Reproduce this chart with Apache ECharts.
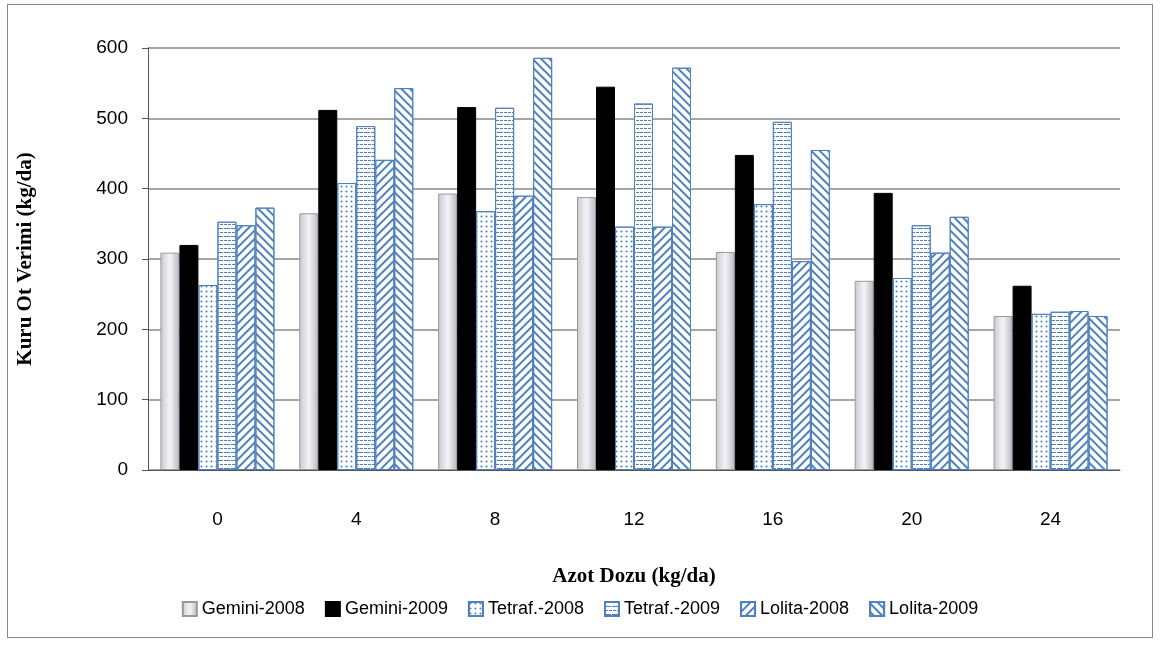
<!DOCTYPE html>
<html><head><meta charset="utf-8">
<script src="https://cdn.jsdelivr.net/npm/echarts@6/dist/echarts.min.js"></script>
<style>html,body{margin:0;background:#fff}#c{width:1160px;height:645px}
#f{position:absolute;left:7px;top:4px;width:1144px;height:632px;border:1px solid #888;pointer-events:none}</style>
</head><body><div id="c"></div><div id="f"></div>
<script>
const categories=['0','4','8','12','16','20','24'];
const seriesNames=['Gemini-2008','Gemini-2009','Tetraf.-2008','Tetraf.-2009','Lolita-2008','Lolita-2009'];
const gemini2008=[309,365,393,388,310,269,219];
const gemini2009=[320,512,516,545,448,394,262];
const tetraf2008=[263,408,368,346,378,273,222];
const tetraf2009=[353,489,515,521,495,348,225];
const lolita2008=[348,441,390,346,297,309,226];
const lolita2009=[373,543,586,572,455,360,219];
const yTicks=[0,100,200,300,400,500,600];
const data=[gemini2008,gemini2009,tetraf2008,tetraf2009,lolita2008,lolita2009];
const blue='#4F81BD';
const styles=[
 {color:new echarts.graphic.LinearGradient(0,0,1,0,[{offset:0,color:'#c8c8d0'},{offset:0.5,color:'#f4f4f8'},{offset:1,color:'#b8b8c4'}]),borderColor:'#999',borderWidth:1},
 {color:'#000',borderColor:'#000',borderWidth:1},
 {color:'#fff',borderColor:blue,borderWidth:1,decal:{symbol:'circle',symbolSize:0.7,dashArrayX:[3,2],dashArrayY:[3,2],color:blue}},
 {color:'#fff',borderColor:blue,borderWidth:1,decal:{symbol:'rect',symbolSize:1,dashArrayX:[[6,1],[3,1,3,1]],dashArrayY:[1,3],rotation:0,color:blue}},
 {color:'#fff',borderColor:blue,borderWidth:1,decal:{symbol:'rect',symbolSize:1,dashArrayX:[1,0],dashArrayY:[2,4],rotation:-Math.PI/4,color:blue}},
 {color:'#fff',borderColor:blue,borderWidth:1,decal:{symbol:'rect',symbolSize:1,dashArrayX:[1,0],dashArrayY:[2,4],rotation:Math.PI/4,color:blue}}
];
const chart=echarts.init(document.getElementById('c'));
chart.setOption({
 animation:false,
 grid:{left:148,right:40,top:48,bottom:175},
 legend:{bottom:22,icon:'rect',itemWidth:14,itemHeight:14,itemGap:20,textStyle:{fontFamily:'Liberation Sans',fontSize:18,color:'#000'},data:seriesNames},
 xAxis:{type:'category',data:categories,name:'Azot Dozu (kg/da)',nameLocation:'middle',nameGap:96,
  nameTextStyle:{fontFamily:'Liberation Serif',fontWeight:'bold',fontSize:21,color:'#000'},
  axisLine:{lineStyle:{color:'#555'}},axisTick:{length:6,lineStyle:{color:'#555'}},
  axisLabel:{fontFamily:'Liberation Sans',fontSize:19,color:'#000',margin:40}},
 yAxis:{type:'value',min:0,max:600,interval:100,name:'Kuru Ot Verimi (kg/da)',nameLocation:'middle',nameGap:112,
  nameTextStyle:{fontFamily:'Liberation Serif',fontWeight:'bold',fontSize:21,color:'#000'},
  axisLine:{show:true,lineStyle:{color:'#555'}},axisTick:{show:true,length:6},
  splitLine:{lineStyle:{color:'#888',width:1.5}},
  axisLabel:{fontFamily:'Liberation Sans',fontSize:19,color:'#000',margin:20,formatter:v=>yTicks.includes(v)?String(v):''}},
 series:seriesNames.map((n,i)=>({name:n,type:'bar',data:data[i],barWidth:19,barGap:'0%',barCategoryGap:'20%',itemStyle:styles[i]}))
});
</script></body></html>
